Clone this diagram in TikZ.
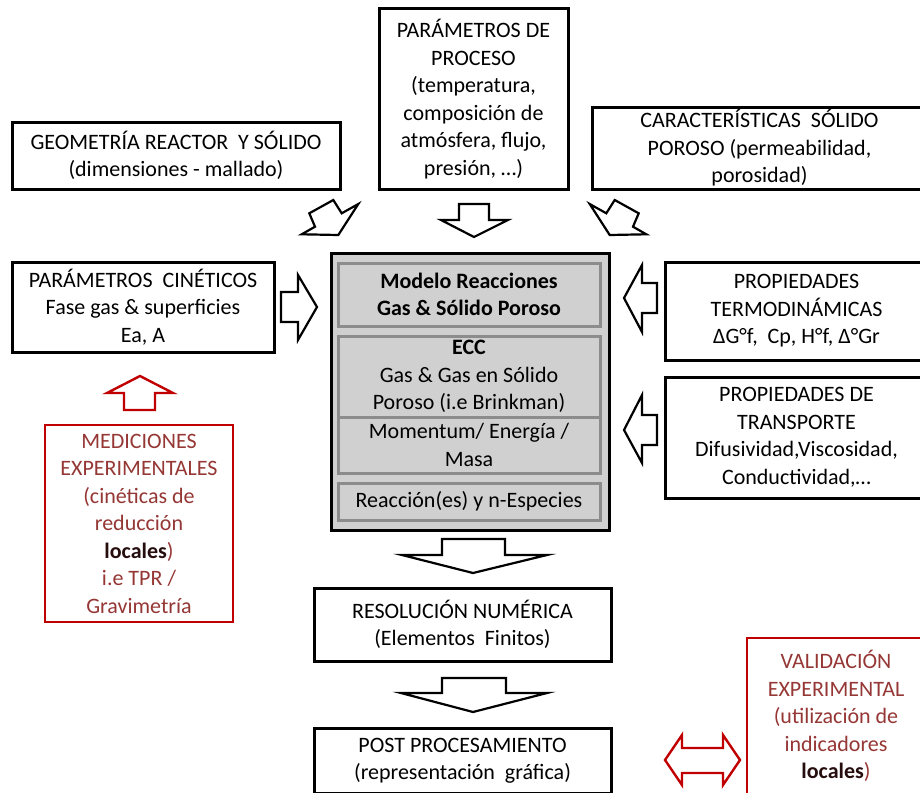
\documentclass[tikz,border=0pt]{standalone}
\usepackage{fontspec}
\setmainfont{Carlito}
\definecolor{rb}{HTML}{C00000}
\definecolor{rt}{HTML}{953735}
\definecolor{cg}{HTML}{D0D0D0}
\definecolor{ig}{HTML}{8C8C8C}
\newcommand\fs{\fontsize{22}{27.5}\selectfont}
\newcommand\bx[7]{\node[#6, minimum width={#4-#2}, minimum height={#5-#3}] (#1) at ({(#2+#4)/2},{(#3+#5)/2}) {#7};}
\begin{document}
\begin{tikzpicture}[x=1pt,y=-1pt,
  box/.style={draw=black, line width=3pt, fill=white, align=center, inner sep=0pt, font=\fs},
  redbox/.style={draw=rb, line width=2.8pt, fill=white, align=center, inner sep=0pt, text=rt, font=\fs},
  inbox/.style={draw=ig, line width=3pt, fill=cg, align=center, inner sep=0pt, font=\fs},
  outbox/.style={draw=black, line width=3pt, fill=cg, inner sep=0pt},
  blk/.style={draw=black, line width=2.2pt, fill=white, line join=miter},
  redarr/.style={draw=rb, line width=2.4pt, fill=white, line join=miter}]
\useasboundingbox (0,0) rectangle (920,792);
% top boxes
\bx{proc}{379}{9}{568}{189}{box}{PARÁMETROS DE\\PROCESO\\(temperatura,\\composición de\\atmósfera, flujo,\\presión, …)}
\bx{geo}{12}{122}{340}{189}{box}{GEOMETRÍA REACTOR\ \ Y SÓLIDO\\(dimensiones - mallado)}
\bx{car}{592}{107}{927}{189}{box}{CARACTERÍSTICAS\ \ SÓLIDO\\POROSO (permeabilidad,\\porosidad)}
% side boxes
\bx{cin}{12}{262}{274}{352}{box}{PARÁMETROS\ \ CINÉTICOS\\Fase gas \& superficies\\Ea, A}
\bx{termo}{665}{262}{928}{360}{box}{PROPIEDADES\\TERMODINÁMICAS\\ΔG°f,\ \ Cp, H°f, Δ°Gr}
\bx{transp}{665}{377}{928}{498}{box}{PROPIEDADES DE\\TRANSPORTE\\Difusividad,Viscosidad,\\Conductividad,…}
% center model
\bx{model}{331}{253}{609}{530}{outbox}{}
\bx{mod}{338}{263}{600}{326}{inbox,font=\fs\bfseries}{Modelo Reacciones\\Gas \& Sólido Poroso}
\bx{ecc}{338}{336}{600}{417}{inbox}{\textbf{ECC}\\Gas \& Gas en Sólido\\Poroso (i.e Brinkman)}
\bx{mom}{338}{417}{600}{473}{inbox}{Momentum/ Energía /\\Masa}
\bx{rea}{338}{483}{600}{520}{inbox}{Reacción(es)\ y n-Especies}
% lower
\bx{med}{45}{425}{233}{622}{redbox}{MEDICIONES\\EXPERIMENTALES\\(cinéticas de\\reducción\\\textcolor{black!75!rt}{\bfseries locales})\\i.e TPR /\\Gravimetría}
\bx{res}{314}{588}{611}{661}{box}{RESOLUCIÓN NUMÉRICA\\(Elementos\ \ Finitos)}
\bx{post}{314}{728}{611}{793}{box}{POST PROCESAMIENTO\\(representación\ \ gráfica)}
\bx{val}{747}{638}{925}{794}{redbox}{VALIDACIÓN\\EXPERIMENTAL\\(utilización de\\indicadores\\\textcolor{black!75!rt}{\bfseries locales})}
% block arrows
\draw[blk] (281,292)--(298,292)--(298,275)--(317,307)--(298,340)--(298,322)--(281,322)--cycle;
\draw[blk] (657,283)--(642,283)--(642,265)--(624,298)--(642,332)--(642,313)--(657,313)--cycle;
\draw[blk] (657,415)--(642,415)--(642,395)--(624,430)--(642,463)--(642,445)--(657,445)--cycle;
\draw[blk] (459,204)--(489,204)--(489,220)--(508,220)--(474,237)--(441,220)--(459,220)--cycle;
\draw[blk] (442,539)--(505,539)--(505,555)--(547,555)--(473,573)--(402,555)--(442,555)--cycle;
\draw[blk] (442,678)--(506,678)--(506,693)--(547,693)--(473,712)--(401,693)--(442,693)--cycle;
\draw[blk] (309.3,213.3)--(315,226.7)--(301.7,234.3)--(338.3,235)--(358.3,204)--(341.7,213.3)--(333.3,200)--cycle;
\draw[blk] (638.7,213.3)--(633,226.7)--(646.3,234.3)--(609.7,235)--(589.7,204)--(606.3,213.3)--(614.7,200)--cycle;
\draw[redarr] (124,410)--(124,393)--(107,393)--(140,376)--(173,393)--(155,393)--(155,410)--cycle;
\draw[redarr] (665,760)--(682,735)--(682,748)--(723,748)--(723,735)--(740,760)--(723,785)--(723,773)--(682,773)--(682,785)--cycle;
\end{tikzpicture}
\end{document}
